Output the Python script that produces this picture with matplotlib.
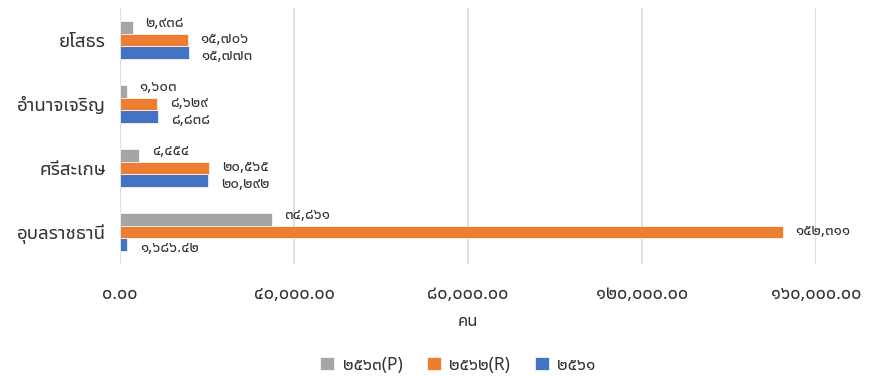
import matplotlib
matplotlib.use("Agg")
import numpy as np
import matplotlib.pyplot as plt
from matplotlib.ticker import FuncFormatter

plt.rcParams['font.family'] = ['Noto Sans Thai UI', 'Noto Sans Thai', 'DejaVu Sans']

provinces = ['อุบลราชธานี', 'ศรีสะเกษ', 'อำนาจเจริญ', 'ยโสธร']
y2561 = [1686.42, 20292, 8838, 15773]
y2562 = [152311, 20565, 8629, 15706]
y2563 = [34861, 4454, 1603, 2938]
legend_labels = ['๒๕๖๓(P)', '๒๕๖๒(R)', '๒๕๖๑']

THAI = str.maketrans('0123456789', '๐๑๒๓๔๕๖๗๘๙')


def thai_num(v, dec=None):
    if dec is None:
        dec = 0 if float(v).is_integer() else 2
    return f"{v:,.{dec}f}".translate(THAI)


txt = '#333333'
fig = plt.figure(figsize=(8.69, 3.76), dpi=100)
ax = fig.add_axes([0.138, 0.298, 0.801, 0.681])

y = np.arange(len(provinces))
h = 0.2
# values, colour, legend label, bar offset, label nudge (points)
series = [(y2561, '#4472C4', legend_labels[2], -h, -2.5),
          (y2562, '#ED7D31', legend_labels[1], 0, 0),
          (y2563, '#A5A5A5', legend_labels[0], h, 2.5)]
bars = {}
for vals, col, lab, off, dy in series:
    b = ax.barh(y + off, vals, height=h, color=col, label=lab,
                edgecolor='white', linewidth=0.5, zorder=3)
    bars[lab] = b
    for yi, v in zip(y + off, vals):
        ax.annotate(thai_num(v), (v, yi), xytext=(9, dy), textcoords='offset points',
                    ha='left', va='center', fontsize=11, color=txt)

ax.set_xlim(0, 160000)
ax.set_ylim(-0.5, 3.5)
ax.set_xticks(np.arange(0, 160001, 40000))
ax.xaxis.set_major_formatter(FuncFormatter(lambda v, p: thai_num(v, 2)))
ax.set_yticks(y)
ax.set_yticklabels(provinces, fontsize=13.5, color=txt)
ax.tick_params(axis='x', labelsize=13, colors=txt, length=0, pad=15)
ax.tick_params(axis='y', length=0, pad=10)
ax.grid(axis='x', color='#D9D9D9', linewidth=1.2, zorder=0)
for s in ax.spines.values():
    s.set_visible(False)
ax.set_xlabel('คน', fontsize=12, color=txt, labelpad=8)

handles = [bars[l] for l in legend_labels]
fig.legend(handles, legend_labels, loc='center', bbox_to_anchor=(0.527, 0.03),
           ncol=3, frameon=False, fontsize=12.5, handlelength=0.8, handleheight=0.8,
           columnspacing=1.4, handletextpad=0.5, labelcolor=txt)

fig.savefig('out.png')
